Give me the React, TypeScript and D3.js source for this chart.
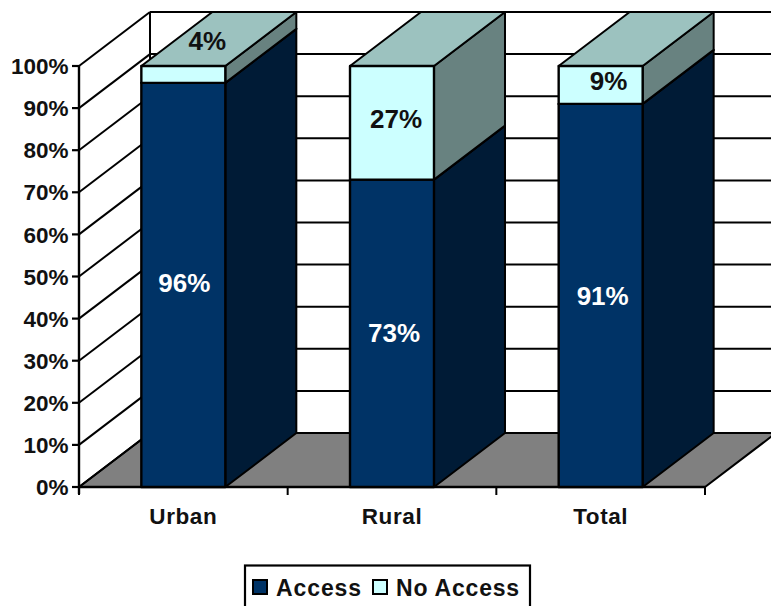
import * as d3 from "d3";

const categories = ["Urban", "Rural", "Total"];
const accessValues = [96, 73, 91];
const noAccessValues = [4, 27, 9];
const yTickValues = [0, 10, 20, 30, 40, 50, 60, 70, 80, 90, 100];
const seriesNames = ["Access", "No Access"];

const width = 771;
const height = 606;
const plot = { left: 79, right: 705, top: 66, bottom: 487 };
const depth = { x: 71, y: -54 };
const barShare = 0.4025;
const font = "'Liberation Sans', Arial, sans-serif";

const colors = {
  access: { front: "#003366", side: "#001b36", top: "#001b36" },
  noAccess: { front: "#ccffff", side: "#688280", top: "#9cc2bf" },
};

// label nudges, the source chart does not centre them exactly
const accessLabelShift = [
  [1, -2],
  [2, -1],
  [2, 0],
];
const noAccessLabelShift = [
  [24, -34],
  [4, -4],
  [8, -4],
];

const y = d3.scaleLinear().domain([0, 100]).range([plot.bottom, plot.top]);
const x = d3.scaleBand<string>().domain(categories).range([plot.left, plot.right]);
const xEdges = d3.range(categories.length + 1).map((i) => plot.left + i * x.step());
const poly = d3.line();

function Block({ x0, x1, lo, hi, fill, stroke = "#000" }: any) {
  const y0 = y(lo);
  const y1 = y(hi);
  const { x: dx, y: dy } = depth;
  const side = poly([[x1, y0], [x1 + dx, y0 + dy], [x1 + dx, y1 + dy], [x1, y1]]) + "Z";
  const top = poly([[x0, y1], [x0 + dx, y1 + dy], [x1 + dx, y1 + dy], [x1, y1]]) + "Z";
  return (
    <g stroke={stroke} strokeWidth={2} strokeLinejoin="round">
      <path d={side} fill={fill.side} />
      <path d={top} fill={fill.top} />
      <rect x={x0} y={y1} width={x1 - x0} height={y0 - y1} fill={fill.front} strokeWidth={2.4} />
    </g>
  );
}

export default function App() {
  const barWidth = x.bandwidth() * barShare;
  return (
    <svg
      width={width}
      height={height}
      viewBox={`0 0 ${width} ${height}`}
      style={{ position: "absolute", left: 0, top: 0, background: "#fff" }}
      fontFamily={font}
      fontWeight="bold"
    >
      {/* floor */}
      <path
        d={
          poly([
            [plot.left, plot.bottom],
            [plot.left + depth.x, plot.bottom + depth.y],
            [plot.right + depth.x, plot.bottom + depth.y],
            [plot.right, plot.bottom],
          ]) + "Z"
        }
        fill="#808080"
        stroke="#000"
        strokeWidth={2}
      />

      {/* walls */}
      {yTickValues.map((t) => (
        <g key={t} stroke="#000" strokeWidth={2} fill="none">
          <line x1={plot.left} y1={y(t)} x2={plot.left + depth.x} y2={y(t) + depth.y} />
          <line x1={plot.left + depth.x} y1={y(t) + depth.y} x2={plot.right + depth.x} y2={y(t) + depth.y} />
          <line x1={plot.left - 7} y1={y(t)} x2={plot.left} y2={y(t)} strokeWidth={2.2} />
        </g>
      ))}
      <line x1={plot.left + depth.x} y1={y(0) + depth.y} x2={plot.left + depth.x} y2={y(100) + depth.y} stroke="#000" strokeWidth={2} />
      <line x1={plot.left} y1={y(0) + 7} x2={plot.left} y2={y(100)} stroke="#000" strokeWidth={2.4} />
      <line x1={plot.left} y1={y(0)} x2={plot.right} y2={y(0)} stroke="#000" strokeWidth={2.4} />
      {xEdges.map((edge) => (
        <line key={edge} x1={edge} y1={y(0)} x2={edge} y2={y(0) + 8} stroke="#000" strokeWidth={2} />
      ))}

      {/* bars */}
      {categories.map((c, i) => {
        const x0 = (x(c) ?? 0) + (x.bandwidth() - barWidth) / 2;
        const x1 = x0 + barWidth;
        const access = accessValues[i];
        const noAccess = noAccessValues[i];
        return (
          <g key={c}>
            <Block x0={x0} x1={x1} lo={0} hi={access} fill={colors.access} />
            <Block x0={x0} x1={x1} lo={access} hi={access + noAccess} fill={colors.noAccess} />
          </g>
        );
      })}

      {/* data labels */}
      <g fontSize={26} textAnchor="middle">
        {categories.map((c, i) => {
          const cx = (x(c) ?? 0) + x.bandwidth() / 2;
          const access = accessValues[i];
          const noAccess = noAccessValues[i];
          return (
            <g key={c}>
              <text x={cx + accessLabelShift[i][0]} y={y(access / 2) + accessLabelShift[i][1]} dy="0.36em" fill="#fff">
                {access}%
              </text>
              <text x={cx + noAccessLabelShift[i][0]} y={y(access + noAccess / 2) + noAccessLabelShift[i][1]} dy="0.36em" fill="#111">
                {noAccess}%
              </text>
            </g>
          );
        })}
      </g>

      {/* axis labels */}
      <g fontSize={22.5} textAnchor="end" fill="#111">
        {yTickValues.map((t) => (
          <text key={t} x={plot.left - 10.5} y={y(t)} dy="0.36em">
            {t}%
          </text>
        ))}
      </g>
      <g fontSize={22.5} textAnchor="middle" fill="#111">
        {categories.map((c) => (
          <text key={c} x={(x(c) ?? 0) + x.bandwidth() / 2} y={y(0) + 37} letterSpacing={0.6}>
            {c}
          </text>
        ))}
      </g>

      {/* legend */}
      <rect x={245} y={565.5} width={285} height={60} fill="#fff" stroke="#000" strokeWidth={2.2} />
      <rect x={253} y={580} width={14} height={14} fill={colors.access.front} stroke="#000" strokeWidth={2} />
      <text x={276} y={596} fontSize={23} letterSpacing={0.9} fill="#111">
        {seriesNames[0]}
      </text>
      <rect x={373} y={580} width={14} height={14} fill={colors.noAccess.front} stroke="#000" strokeWidth={2} />
      <text x={396} y={596} fontSize={23} letterSpacing={0.8} fill="#111">
        {seriesNames[1]}
      </text>
    </svg>
  );
}
